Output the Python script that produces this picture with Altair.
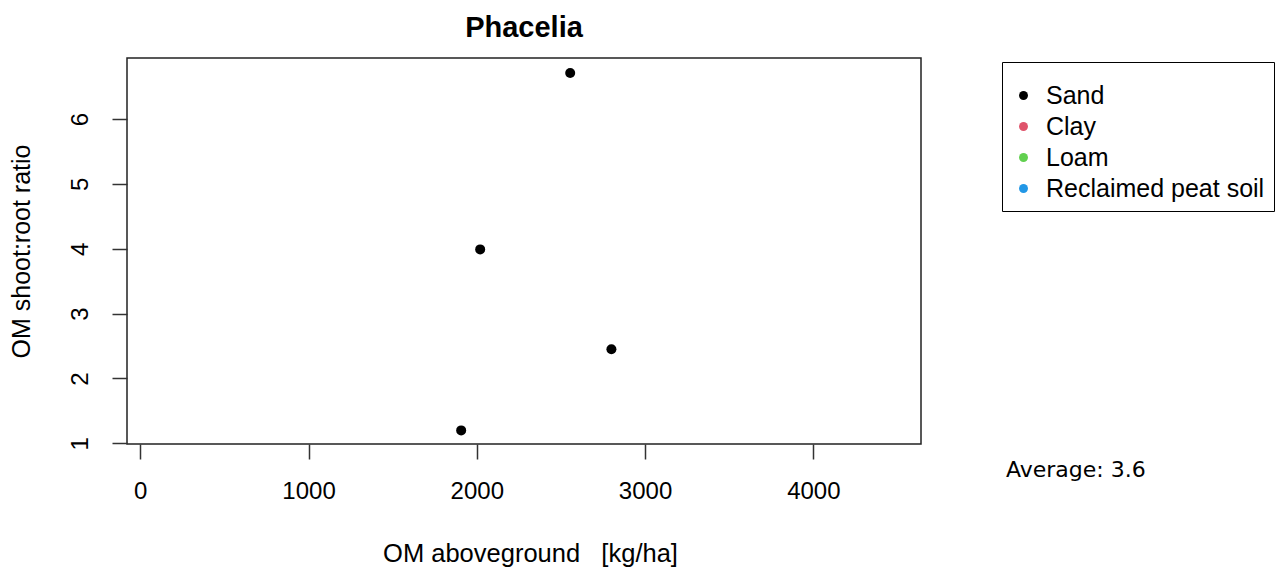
import altair as alt
import pandas as pd

# ---- data ----
soil = ["Sand", "Sand", "Sand", "Sand"]
om_aboveground = [2555, 2020, 2800, 1907]
shoot_root_ratio = [6.71, 3.99, 2.45, 1.20]

soil_types = ["Sand", "Clay", "Loam", "Reclaimed peat soil"]
soil_colors = ["#000000", "#DF536B", "#61D04F", "#2297E6"]

x_ticks = [0, 1000, 2000, 3000, 4000]
y_ticks = [1, 2, 3, 4, 5, 6]
average_label = ["Average: 3.6"]

df = pd.DataFrame({"soil": soil, "om": om_aboveground, "ratio": shoot_root_ratio})
avg_df = pd.DataFrame({"label": average_label})

FONT = "Liberation Sans"
NB = "\u00a0"

x_axis = alt.Axis(
    values=x_ticks, format="d", grid=False, domain=False,
    tickSize=15, tickColor="#333333", tickWidth=1.5,
    labelFont=FONT, labelFontSize=24, labelColor="black", labelPadding=20,
    labelFlush=False, labelOverlap=False,
    title=f"OM aboveground{NB}{NB}{NB}[kg/ha]", titleFont=FONT, titleFontSize=25.5,
    titleFontWeight="normal", titleColor="black",
    titleX=403, titleY=109, titleBaseline="middle", titleAlign="center",
)
y_axis = alt.Axis(
    values=y_ticks, format="d", grid=False, domain=False,
    tickSize=15, tickColor="#333333", tickWidth=1.5,
    labelFont=FONT, labelFontSize=24, labelColor="black", labelPadding=32,
    labelAngle=-90, labelAlign="center", labelBaseline="middle",
    labelFlush=False, labelOverlap=False,
    title="OM shoot:root ratio", titleFont=FONT, titleFontSize=25,
    titleFontWeight="normal", titleColor="black", titleAngle=-90,
    titleX=-106, titleY=193, titleBaseline="middle", titleAlign="center",
)

points = alt.Chart(df).mark_circle(size=100, opacity=1).encode(
    x=alt.X("om:Q", scale=alt.Scale(domain=[-79, 4640], nice=False, zero=False), axis=x_axis),
    y=alt.Y("ratio:Q", scale=alt.Scale(domain=[0.99, 6.94], nice=False, zero=False), axis=y_axis),
    color=alt.Color(
        "soil:N",
        scale=alt.Scale(domain=soil_types, range=soil_colors),
        legend=alt.Legend(
            title=" ", titleFontSize=8, titlePadding=4,
            orient="none", legendX=875, legendY=4,
            padding=9, strokeColor="black", fillColor="white",
            labelFont=FONT, labelFontSize=25, labelColor="black", labelLimit=400,
            labelOffset=10, rowPadding=5,
            symbolType="circle", symbolSize=80, symbolOpacity=1,
            symbolStrokeWidth=0,
        ),
    ),
)

avg_text = alt.Chart(avg_df).mark_text(
    align="left", baseline="middle", font="DejaVu Sans", fontSize=22, color="black"
).encode(
    x=alt.value(879), y=alt.value(412), text="label:N"
)

chart = alt.layer(points, avg_text).properties(
    width=794, height=386,
    padding={"left": 127, "top": 58, "right": 362, "bottom": 125},
    autosize=alt.AutoSizeParams(type="none"),
    background="white",
    title=alt.TitleParams(
        "Phacelia", font=FONT, fontSize=29, fontWeight="bold", color="black",
        anchor="middle", baseline="alphabetic", offset=21, dy=29,
    ),
).configure_view(
    stroke="#222222", strokeWidth=1.5
)

chart.save("out.html", embed_options={"renderer": "svg", "actions": False})
